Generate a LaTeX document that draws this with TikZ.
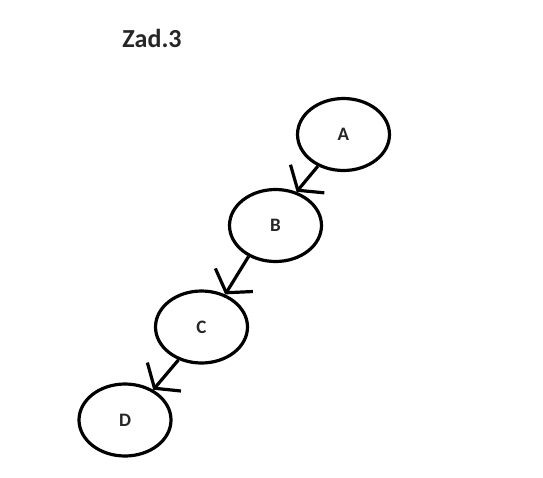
\documentclass[tikz,border=0pt]{standalone}
\usepackage{fontspec}
\setmainfont{Carlito}
\usetikzlibrary{shapes.geometric,arrows.meta}
\tikzset{
  vert/.style={ellipse, draw=black, line width=3.2pt, minimum width=92pt, minimum height=72pt, inner sep=0pt, font=\fontsize{19}{19}\selectfont\bfseries, text=black!85},
  edge/.style={line width=3.2pt, -{Straight Barb[length=15pt,width=44pt]}}
}
\begin{document}
\begin{tikzpicture}[x=1pt,y=-1pt]
\useasboundingbox[fill=white] (0,0) rectangle (543,477);
\node[anchor=base, font=\fontsize{26}{26}\selectfont\bfseries, text=black!85] (title) at (152,47) {Zad.3};
\node[vert] (A) at (343.5,134.5) {A};
\node[vert] (B) at (275.5,225.5) {B};
\node[vert] (C) at (201.5,327) {C};
\node[vert] (D) at (125,420) {D};
\draw[edge] (A.231) -- (B.58);
\draw[edge] (B.229) -- (C.54);
\draw[edge] (C.235) -- (D.47);
\end{tikzpicture}
\end{document}
